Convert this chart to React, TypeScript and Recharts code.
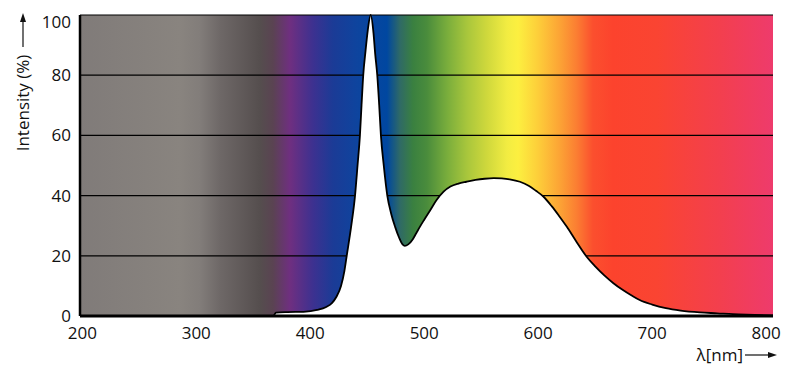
import React from 'react';
import { ComposedChart, Area, XAxis, YAxis, CartesianGrid } from 'recharts';

// ---- data ----
const wavelengths = [
  368, 370, 380, 394, 406, 414, 419, 423, 427, 430, 432, 436, 439.3, 441.5, 443.6, 445, 446.5, 448.5, 450.5, 453,
  455.5, 457, 458.8, 460.5, 462, 464.5, 467.6, 471, 474.4, 478, 481, 483, 486, 490, 493, 496.3, 500, 505, 511, 517,
  523, 530, 537, 545, 553, 561, 568, 575, 584, 592, 598, 604.5, 612, 618, 625, 633, 642.5, 650, 658, 666, 674, 682,
  689, 700, 712, 725, 742, 757, 771, 790, 806,
];
const intensity = [
  0, 1.1, 1.3, 1.4, 2.0, 3.0, 4.3, 6.4, 10, 15, 20, 30, 40, 50, 60, 70, 80, 88, 95, 100,
  94, 87, 80, 70, 60, 50, 40, 34, 29.7, 26, 23.8, 23.3, 23.8, 25.5, 27.5, 29.7, 32, 35, 38.6, 41.3,
  43, 44, 44.6, 45.2, 45.6, 45.8, 45.7, 45.4, 44.6, 43.2, 41.6, 39.7, 36.4, 33.4, 29.7, 25, 19.7, 16.5, 13.5, 10.9, 8.7, 6.8,
  5.3, 3.8, 2.6, 1.8, 1.2, 0.9, 0.6, 0.4, 0.2,
];
const xTicks = [200, 300, 400, 500, 600, 700, 800];
const yTicks = [0, 20, 40, 60, 80, 100];
const X_MIN = 198;
const X_MAX = 806;

// background spectrum (wavelength -> colour)
const spectrumWavelengths = [
  198, 285.7, 303, 320.8, 355.9, 367.3, 382.2, 402.4, 420, 441, 467.3, 478.7, 490.1, 502.4, 520, 537.5, 555,
  572.6, 582.3, 598.9, 619.1, 634, 648, 665.6, 704.2, 759.5, 806,
];
const spectrumColors = [
  '#807b79', '#89847f', '#827d7a', '#6e6867', '#554e4e', '#5a4352', '#6f2f80', '#3d3190', '#1b3b96', '#0e449e',
  '#0047a0', '#2f6a66', '#3a8040', '#4a8c3c', '#79ad3c', '#a8c63c', '#cfd83c', '#f2ec42', '#fcef40', '#fdd03a',
  '#fca335', '#fb7d32', '#fb4f2e', '#fc432d', '#fa4432', '#f33f4e', '#ee3b6c',
];

const data = wavelengths.map((w, i) => ({ w, v: intensity[i] }));

const FONT = '"Open Sans", "Noto Sans", sans-serif';
const TEXT = '#111';

const YTick = (props: any) => {
  const { x, y, payload } = props;
  const shift = payload.value === 100 ? 7 : 0;
  return (
    <text x={x} y={y + shift} dy="0.355em" textAnchor="end" fontSize={17} fontFamily={FONT} fill={TEXT}>
      {payload.value}
    </text>
  );
};

const YLabel = (props: any) => {
  const vb = props.viewBox || { x: 0, y: 15 };
  const cx = vb.x + 23;
  const cy = vb.y + 88;
  return (
    <g>
      <text
        x={cx}
        y={cy}
        transform={`rotate(-90 ${cx} ${cy})`}
        textAnchor="middle"
        dy="0.355em"
        fontSize={17}
        fontFamily={FONT}
        fill={TEXT}
      >
        Intensity (%)
      </text>
      <line x1={cx} y1={vb.y + 32} x2={cx} y2={vb.y + 5} stroke={TEXT} strokeWidth={1.2} />
      <polygon points={`${cx},${vb.y - 2} ${cx - 3},${vb.y + 7} ${cx + 3},${vb.y + 7}`} fill={TEXT} />
    </g>
  );
};

const XLabel = (props: any) => {
  const vb = props.viewBox || { x: 80, y: 316, width: 693 };
  const right = vb.x + vb.width;
  const ly = vb.y + 39;
  return (
    <g>
      <text x={right - 30} y={ly} dy="0.355em" textAnchor="end" fontSize={17} fontFamily={FONT} fill={TEXT}>
        λ[nm]
      </text>
      <line x1={right - 28} y1={ly} x2={right - 2} y2={ly} stroke={TEXT} strokeWidth={1.2} />
      <polygon points={`${right + 4},${ly} ${right - 5},${ly - 3} ${right - 5},${ly + 3}`} fill={TEXT} />
    </g>
  );
};

export default function App() {
  return (
    <div style={{ position: 'absolute', left: 0, top: 0, width: 800, height: 388, background: '#fff' }}>
      <ComposedChart width={800} height={388} data={data} margin={{ top: 15, right: 27, left: 0, bottom: 0 }}>
        <defs>
          <linearGradient id="spectrum" x1="0" y1="0" x2="1" y2="0">
            {spectrumWavelengths.map((w, i) => (
              <stop key={i} offset={(w - X_MIN) / (X_MAX - X_MIN)} stopColor={spectrumColors[i]} />
            ))}
          </linearGradient>
        </defs>
        <CartesianGrid vertical={false} stroke="#000" strokeWidth={1.2} fill="url(#spectrum)" fillOpacity={1} />
        <XAxis
          dataKey="w"
          type="number"
          domain={[X_MIN, X_MAX]}
          ticks={xTicks}
          allowDataOverflow
          height={72}
          tickLine={false}
          tickSize={6}
          tickMargin={5}
          axisLine={{ stroke: '#000', strokeWidth: 3 }}
          tick={{ fill: TEXT, fontSize: 17, fontFamily: FONT }}
          label={<XLabel />}
        />
        <XAxis
          xAxisId="top"
          orientation="top"
          type="number"
          domain={[X_MIN, X_MAX]}
          allowDataOverflow
          height={0}
          tick={false}
          tickLine={false}
          axisLine={{ stroke: '#000', strokeWidth: 2 }}
        />
        <YAxis
          type="number"
          domain={[0, 100]}
          ticks={yTicks}
          width={80}
          tickLine={false}
          tickSize={6}
          tickMargin={3}
          axisLine={{ stroke: '#000', strokeWidth: 2.5 }}
          tick={<YTick />}
          label={<YLabel />}
        />
        <YAxis
          yAxisId="right"
          orientation="right"
          type="number"
          domain={[0, 100]}
          width={0}
          tick={false}
          tickLine={false}
          axisLine={{ stroke: '#000', strokeWidth: 2 }}
        />
        <Area
          type="monotone"
          dataKey="v"
          stroke="#000"
          strokeWidth={1.8}
          fill="#fff"
          fillOpacity={1}
          isAnimationActive={false}
          dot={false}
          activeDot={false}
        />
      </ComposedChart>
    </div>
  );
}
